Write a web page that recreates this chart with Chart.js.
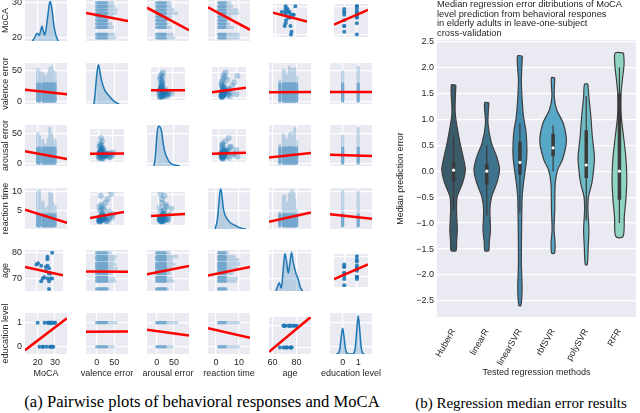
<!DOCTYPE html>
<html>
<head>
<meta charset="utf-8">
<script src="https://cdn.jsdelivr.net/npm/chart.js@4.4.1/dist/chart.umd.min.js"></script>
<style>
  body { margin: 0; width: 640px; height: 413px; background: #fff; position: relative; overflow: hidden; }
  canvas { position: absolute; }
  .cap { position: absolute; top: 395px; font-family: "Liberation Serif", "Times New Roman", serif; font-size: 15px; line-height: 16px; color: #000; white-space: nowrap; transform: translateX(-50%); }
</style>
</head>
<body>
<div class="cap" style="left:202px;font-size:16.6px;top:394px">(a) Pairwise plots of behavioral responses and MoCA</div>
<div class="cap" style="left:521px">(b) Regression median error results</div>
<script>
// --- DATA: pairplot ---
const varNames = ['MoCA', 'valence error', 'arousal error', 'reaction time', 'age', 'education level'];
const colRange = [[12.7, 36.9], [-30.4, 88.9], [-28, 93.4], [-3.5, 14.8], [57, 92], [-0.81, 1.88]];
const rowRange = [[19.1, 30.8], [-4.7, 62], [-4.8, 63.5], [0.4, 10.8], [65.2, 81.1], [-0.3, 1.4]];
const xTicks = [[20, 30], [0, 50], [0, 50], [0, 10], [60, 80], [0, 1]];
const yTicks = [[20, 30], [0, 50], [0, 50], [5, 10], [70, 80], [0, 1]];

// one entry per subject
const subjMoca = [20, 21, 23, 23, 24, 25, 26, 26, 27, 27, 27, 27, 28, 28, 28, 29, 29, 30, 30, 28];
const subjAge  = [75.5, 76, 75, 69, 70, 70.5, 74.5, 73, 77.5, 78.5, 75, 70, 72, 74, 66, 70, 72, 70, 80, 69];
const subjEdu  = [1, 0, 0, 0, 1, 0, 1, 1, 1, 1, 0, 1, 0, 1, 0, 1, 0, 1, 1, 1];
// largest trial value seen per subject
const valMax = [52, 48, 35, 45, 40, 30, 44, 38, 50, 53, 42, 47, 36, 55, 33, 49, 41, 46, 39, 51];
const aroMax = [50, 45, 38, 34, 30, 28, 40, 35, 44, 58, 36, 42, 38, 48, 30, 40, 35, 38, 36, 47];
const rtMax  = [9.8, 10, 6.5, 7.2, 5.5, 4.8, 6, 5.2, 9.5, 7.8, 6.3, 8.9, 7, 9.2, 4.5, 6.8, 5.6, 6.1, 5, 8.4];
const trialLow  = { 1: 0, 2: 0, 3: 1.2 };
const trialCore = { 1: 28, 2: 25, 3: 4 };

// sample of single trials
const trialVal = [2, 4, 5, 7, 3, 9, 12, 6, 15, 18, 1, 8, 22, 10, 4, 27, 14, 6, 31, 11, 3, 19, 36, 5, 8, 24, 13, 42, 2, 16, 9, 47, 7, 20, 12, 29, 5, 38, 10, 17, 3, 25, 6, 51, 14, 33, 8, 21, 11, 44];
const trialAro = [6, 3, 11, 9, 14, 5, 18, 12, 8, 21, 4, 16, 10, 25, 13, 7, 19, 28, 11, 2, 15, 9, 6, 33, 17, 12, 24, 14, 8, 4, 31, 10, 20, 7, 38, 13, 16, 5, 22, 11, 27, 9, 18, 15, 3, 12, 45, 8, 19, 6];
const trialRt  = [1.8, 2.2, 1.5, 3.0, 2.5, 1.9, 4.1, 2.7, 2.1, 5.2, 1.6, 3.4, 2.3, 6.8, 1.7, 2.9, 3.8, 2.0, 8.5, 2.4, 1.5, 3.1, 4.6, 2.2, 1.9, 7.4, 2.6, 3.3, 1.8, 5.9, 2.1, 2.8, 9.6, 2.3, 3.6, 1.7, 4.9, 2.5, 2.0, 3.2, 6.2, 1.6, 2.7, 3.9, 2.4, 1.8, 5.5, 2.2, 3.0, 10.2];

// diagonal density curves (relative height)
const kdeX = [
  [16.9, 17.8, 18.8, 19.8, 20.9, 21.8, 22.5, 23.3, 24.0, 24.8, 25.8, 27.1, 28.3, 29.3, 30.3, 31.2, 31.9],
  [-7.7, -4, 0, 4.6, 8, 12, 16, 20, 24, 28, 33, 38, 45, 52, 58, 64],
  [-7.8, -4, 0, 3, 6, 10, 14, 18, 22, 26, 30, 35, 43, 55, 67],
  [-0.4, 0.5, 1.2, 1.7, 2.1, 2.6, 3.2, 4, 5.3, 6.5, 8.3, 10, 11.5, 13],
  [62.7, 64, 65.5, 67.2, 68.5, 70.2, 71.5, 73, 74.5, 75.8, 77.2, 79.4, 81.4, 83, 85],
  [-0.4, -0.3, -0.2, -0.1, 0, 0.1, 0.2, 0.3, 0.4, 0.6, 0.7, 0.8, 0.9, 1, 1.1, 1.2, 1.3, 1.4]
];
const kdeY = [
  [0, 0.05, 0.13, 0.19, 0.14, 0.26, 0.36, 0.24, 0.15, 0.28, 0.6, 0.96, 0.75, 0.4, 0.17, 0.06, 0],
  [0, 0.3, 0.7, 0.95, 0.85, 0.65, 0.5, 0.4, 0.32, 0.27, 0.22, 0.17, 0.1, 0.05, 0.02, 0],
  [0, 0.2, 0.68, 0.93, 0.97, 0.95, 0.85, 0.6, 0.4, 0.28, 0.2, 0.12, 0.05, 0.02, 0],
  [0, 0.2, 0.6, 0.9, 0.97, 0.8, 0.5, 0.33, 0.21, 0.14, 0.09, 0.04, 0.015, 0],
  [0, 0.1, 0.2, 0.08, 0.4, 0.9, 0.75, 0.44, 0.7, 0.94, 0.7, 0.44, 0.28, 0.1, 0],
  [0, 0.01, 0.09, 0.38, 0.63, 0.38, 0.09, 0.01, 0, 0, 0.01, 0.13, 0.56, 0.93, 0.56, 0.13, 0.01, 0]
];

// fitted line: row value at left and right end of the column range
const regL = [
  [null, 27.1, 28.6, 28.7, 27.7, 23.5],
  [18.3, null, 14.8, 10.9, 14.5, 14.7],
  [19.6, 12.5, null, 12.2, 9.2, 14.1],
  [5.3, 2.6, 3.26, null, 2.2, 4.16],
  [74.55, 72.8, 71.7, 71.2, null, 69.0],
  [-0.14, 0.625, 0.71, 0.77, -0.2, null]
];
const regR = [
  [null, 24.8, 22.2, 22.3, 24.6, 28.7],
  [11.1, null, 15.2, 20.2, 15.0, 14.7],
  [6.8, 13.0, null, 14.3, 16.9, 12.0],
  [1.95, 4.5, 3.9, null, 4.6, 3.0],
  [71.3, 72.7, 74.9, 74.5, null, 76.1],
  [1.18, 0.63, 0.47, 0.37, 1.41, null]
];

// --- DATA: violins ---
const methods = ['HuberR', 'linearR', 'linearSVR', 'rbfSVR', 'polySVR', 'RFR'];
const violinY = [
  [1.66, 1.11, 0.6, 0.28, 0.03, -0.23, -0.49, -0.74, -1.13, -1.38, -1.53],
  [1.32, 0.92, 0.54, 0.28, 0.03, -0.23, -0.49, -0.74, -1.13, -1.38, -1.53],
  [2.22, 1.76, 1.37, 1.05, 0.79, 0.54, 0.28, 0.03, -0.23, -0.49, -0.74, -1.13, -1.77, -2.28, -2.59],
  [1.80, 1.43, 1.18, 0.92, 0.57, 0.22, 0.03, -0.23, -0.74, -1.13, -1.38, -1.58],
  [1.68, 1.43, 1.05, 0.67, 0.28, 0.03, -0.23, -0.49, -0.74, -1.13, -1.45, -1.80],
  [2.28, 2.08, 1.76, 1.5, 1.11, 0.67, 0.28, -0.1, -0.49, -0.87, -1.26]
];
const violinHalf = [
  [0.068, 0.05, 0.178, 0.287, 0.355, 0.27, 0.109, 0.089, 0.112, 0.089, 0.074],
  [0.065, 0.038, 0.142, 0.3, 0.385, 0.3, 0.148, 0.095, 0.112, 0.074, 0.059],
  [0.074, 0.044, 0.068, 0.11, 0.178, 0.207, 0.207, 0.163, 0.107, 0.068, 0.059, 0.05, 0.044, 0.065, 0.03],
  [0.05, 0.036, 0.112, 0.31, 0.4, 0.281, 0.139, 0.065, 0.05, 0.03, 0.059, 0.044],
  [0.05, 0.08, 0.139, 0.183, 0.246, 0.222, 0.169, 0.068, 0.05, 0.08, 0.059, 0.03],
  [0.124, 0.142, 0.089, 0.05, 0.05, 0.124, 0.192, 0.222, 0.201, 0.148, 0.109]
];
const boxQ1  = [-0.2, -0.26, -0.07, 0.29, -0.13, -0.55];
const boxMed = [0.02, 0.0, 0.17, 0.45, 0.12, 0.0];
const boxQ3  = [0.18, 0.15, 0.57, 0.72, 0.79, 1.5];
const whiskLo = [-0.75, -0.85, -0.8, 0.0, -0.95, -1.0];
const whiskHi = [0.7, 0.5, 0.93, 0.88, 1.45, 2.0];
const violinTicks = [-2.5, -2.0, -1.5, -1.0, -0.5, 0, 0.5, 1.0, 1.5, 2.0, 2.5];

// --- STYLE / LAYOUT ---
const violinColors = ['#3a5b69', '#3d738c', '#448bb0', '#57a7c6', '#6dbcc6', '#8fd3c2'];
const COL_LEFT = [25, 86, 147, 208, 269, 330], CELL_W = 42;
const ROW_TOP = [0, 63, 125, 188, 250, 313], CELL_H = 41;
const YAXIS_W = 25, XAXIS_H = 25, TITLE_EXT = 14, NAME_EXT = 14;
const FONT = '"Liberation Sans", Arial, sans-serif';

Chart.defaults.animation = false;
Chart.defaults.events = [];
Chart.defaults.font.family = FONT;
Chart.defaults.font.size = 9;
Chart.defaults.color = '#262626';
Chart.defaults.plugins.legend.display = false;
Chart.defaults.plugins.tooltip.enabled = false;

// darkgrid panel background
Chart.register({
  id: 'panelBg',
  beforeDraw(chart) {
    const { ctx, chartArea: a } = chart;
    ctx.save();
    ctx.fillStyle = '#EAEAF2';
    ctx.fillRect(a.left, a.top, a.width, a.height);
    ctx.restore();
  }
});

// variable names on the outer rows/columns, drawn without squeezing to the panel size
const pairNames = {
  id: 'pairNames',
  afterDraw(chart, args, opts) {
    const { ctx, chartArea: a } = chart;
    ctx.save();
    ctx.fillStyle = '#262626';
    ctx.font = '9px ' + FONT;
    ctx.textAlign = 'center';
    ctx.textBaseline = 'middle';
    if (opts.col === 0) {
      ctx.save();
      ctx.translate(6, (a.top + a.bottom) / 2);
      ctx.rotate(-Math.PI / 2);
      ctx.fillText(varNames[opts.row], 0, 0);
      ctx.restore();
    }
    if (opts.row === 5) ctx.fillText(varNames[opts.col], (a.left + a.right) / 2, a.bottom + 19.5);
    ctx.restore();
  }
};

const isSubj = v => v === 0 || v === 4 || v === 5;
const subjCol = v => v === 0 ? subjMoca : v === 4 ? subjAge : subjEdu;
const trialCol = v => v === 1 ? trialVal : v === 2 ? trialAro : trialRt;
const trialMaxCol = v => v === 1 ? valMax : v === 2 ? aroMax : rtMax;

function addCanvas(left, top, w, h) {
  const cv = document.createElement('canvas');
  cv.width = w; cv.height = h;
  cv.style.left = left + 'px';
  cv.style.top = top + 'px';
  document.body.appendChild(cv);
  return cv;
}

// one subject = one strip along the trial variable
function strip(r, c, core, alpha) {
  const sv = isSubj(c) ? c : r, tv = isSubj(c) ? r : c;
  const pts = [];
  subjMoca.forEach((_, s) => {
    const at = subjCol(sv)[s];
    const lo = trialLow[tv];
    const hi = core ? Math.min(trialCore[tv], trialMaxCol(tv)[s]) : trialMaxCol(tv)[s];
    if (sv === c) pts.push({ x: at, y: lo }, { x: at, y: hi });
    else pts.push({ x: lo, y: at }, { x: hi, y: at });
    pts.push({ x: null, y: null });
  });
  return { data: pts, showLine: true, spanGaps: false, pointRadius: 0, borderWidth: 3.2,
    borderCapStyle: 'round', borderColor: `rgba(31,119,180,${alpha})`, clip: 0 };
}

function cellDatasets(r, c) {
  if (r === c) {
    return [{
      data: kdeX[c].map((x, i) => ({ x, y: kdeY[c][i] })), yAxisID: 'yk',
      showLine: true, tension: 0.35, borderColor: '#1f77b4', borderWidth: 1.5, pointRadius: 0,
      fill: 'origin', backgroundColor: 'rgba(31,119,180,0.25)', clip: 0
    }];
  }
  const ds = [{
    data: [{ x: colRange[c][0], y: regL[r][c] }, { x: colRange[c][1], y: regR[r][c] }],
    showLine: true, borderColor: '#ff0000', borderWidth: 2.5, pointRadius: 0, clip: 0
  }];
  if (isSubj(r) && isSubj(c)) {
    ds.push({ data: subjMoca.map((_, s) => ({ x: subjCol(c)[s], y: subjCol(r)[s] })),
      pointRadius: 2, pointBorderWidth: 0, pointBackgroundColor: 'rgba(31,119,180,0.9)', clip: 0 });
  } else if (!isSubj(r) && !isSubj(c)) {
    ds.push({ data: trialVal.map((_, k) => ({ x: trialCol(c)[k], y: trialCol(r)[k] })),
      pointRadius: 3, pointBorderWidth: 0, pointBackgroundColor: 'rgba(31,119,180,0.3)', clip: 0 });
  } else {
    ds.push(strip(r, c, true, 0.45), strip(r, c, false, 0.25));
  }
  return ds;
}

function cellScales(r, c) {
  const left = c === 0, bottom = r === 5;
  const grid = { color: '#ffffff', lineWidth: 1.2, drawTicks: false };
  const scales = {
    x: {
      type: 'linear', min: colRange[c][0], max: colRange[c][1],
      afterBuildTicks: s => { s.ticks = xTicks[c].map(v => ({ value: v })); },
      afterFit: s => { s.height = bottom ? XAXIS_H : 0; },
      grid, border: { display: false },
      ticks: { display: bottom, padding: 3, maxRotation: 0, autoSkip: false }
    },
    y: {
      type: 'linear', min: rowRange[r][0], max: rowRange[r][1],
      afterBuildTicks: s => { s.ticks = yTicks[r].map(v => ({ value: v })); },
      afterFit: s => { s.width = left ? YAXIS_W : 0; },
      grid, border: { display: false },
      ticks: { display: left, padding: 3, autoSkip: false }
    }
  };
  if (r === c) scales.yk = { type: 'linear', display: false, min: 0, max: 1 };
  return scales;
}

for (let r = 0; r < 6; r++) {
  for (let c = 0; c < 6; c++) {
    // outer canvases get extra room so the variable names are not cut
    const padT = c === 0 ? TITLE_EXT : 0;
    const padB = r === 5 ? 0 : (c === 0 ? TITLE_EXT : 0);
    const padL = r === 5 && c > 0 ? NAME_EXT : 0;
    const padR = r === 5 ? NAME_EXT : 0;
    const left = (c === 0 ? 0 : COL_LEFT[c]) - padL;
    const w = (c === 0 ? COL_LEFT[0] + CELL_W : CELL_W) + padL + padR;
    const h = CELL_H + (r === 5 ? XAXIS_H : 0) + padT + padB;
    new Chart(addCanvas(left, ROW_TOP[r] - padT, w, h), {
      type: 'scatter',
      data: { datasets: cellDatasets(r, c) },
      plugins: [pairNames],
      options: {
        responsive: false,
        layout: { padding: { top: padT, bottom: padB, left: padL, right: padR } },
        plugins: { pairNames: { row: r, col: c } },
        scales: cellScales(r, c)
      }
    });
  }
}

// --- violin panel ---
const violinDatasets = [];
violinDatasets.push({
  data: methods.map((m, i) => ({ x: i, y: boxMed[i] })),
  pointRadius: 1.6, pointBorderWidth: 0, pointBackgroundColor: '#ffffff'
});
const boxPts = [], whiskPts = [];
methods.forEach((m, i) => {
  boxPts.push({ x: i, y: boxQ1[i] }, { x: i, y: boxQ3[i] }, { x: null, y: null });
  whiskPts.push({ x: i, y: whiskLo[i] }, { x: i, y: whiskHi[i] }, { x: null, y: null });
});
violinDatasets.push({ data: boxPts, showLine: true, spanGaps: false, pointRadius: 0, borderWidth: 3.5, borderColor: '#3a3a3a', borderCapStyle: 'butt' });
violinDatasets.push({ data: whiskPts, showLine: true, spanGaps: false, pointRadius: 0, borderWidth: 1.2, borderColor: '#3a3a3a' });
methods.forEach((m, i) => {
  const ys = violinY[i], hw = violinHalf[i];
  const right = ys.map((y, k) => ({ x: i + hw[k], y }));
  const leftSide = ys.map((y, k) => ({ x: i - hw[k], y })).reverse();
  violinDatasets.push({
    data: [...right, ...leftSide, right[0]],
    showLine: true, tension: 0.3, pointRadius: 0, fill: 'shape',
    backgroundColor: violinColors[i], borderColor: '#3f3f3f', borderWidth: 1.2
  });
});

new Chart(addCanvas(395, 0, 245, 378), {
  type: 'scatter',
  data: { datasets: violinDatasets },
  options: {
    responsive: false,
    layout: { padding: 0 },
    plugins: {
      title: {
        display: true, align: 'start', fullSize: false, color: '#262626',
        text: ['Median regression error ditributions of MoCA', 'level prediction from behavioral respones',
               'in elderly adults in leave-one-subject', 'cross-validation'],
        font: { size: 9.3, weight: 'normal', lineHeight: 1.02 },
        padding: { top: 0, bottom: 2 }
      }
    },
    scales: {
      x: {
        type: 'linear', min: -0.5, max: 5.5,
        afterBuildTicks: s => { s.ticks = methods.map((m, i) => ({ value: i })); },
        afterFit: s => { s.height = 61; },
        grid: { display: false }, border: { display: false },
        ticks: { callback: v => methods[v], minRotation: 60, maxRotation: 60, autoSkip: false, padding: 2 },
        title: { display: true, text: 'Tested regression methods', padding: 0 }
      },
      y: {
        type: 'linear', min: -2.81, max: 2.53,
        afterBuildTicks: s => { s.ticks = violinTicks.map(v => ({ value: v })); },
        afterFit: s => { s.width = 42; },
        grid: { color: '#ffffff', lineWidth: 1.2, drawTicks: false }, border: { display: false },
        ticks: { padding: 3, autoSkip: false, callback: v => (v < 0 ? '\u2212' : '') + Math.abs(v).toFixed(1) },
        title: { display: true, text: 'Median prediction error', padding: 0 }
      }
    }
  }
});
</script>
</body>
</html>
